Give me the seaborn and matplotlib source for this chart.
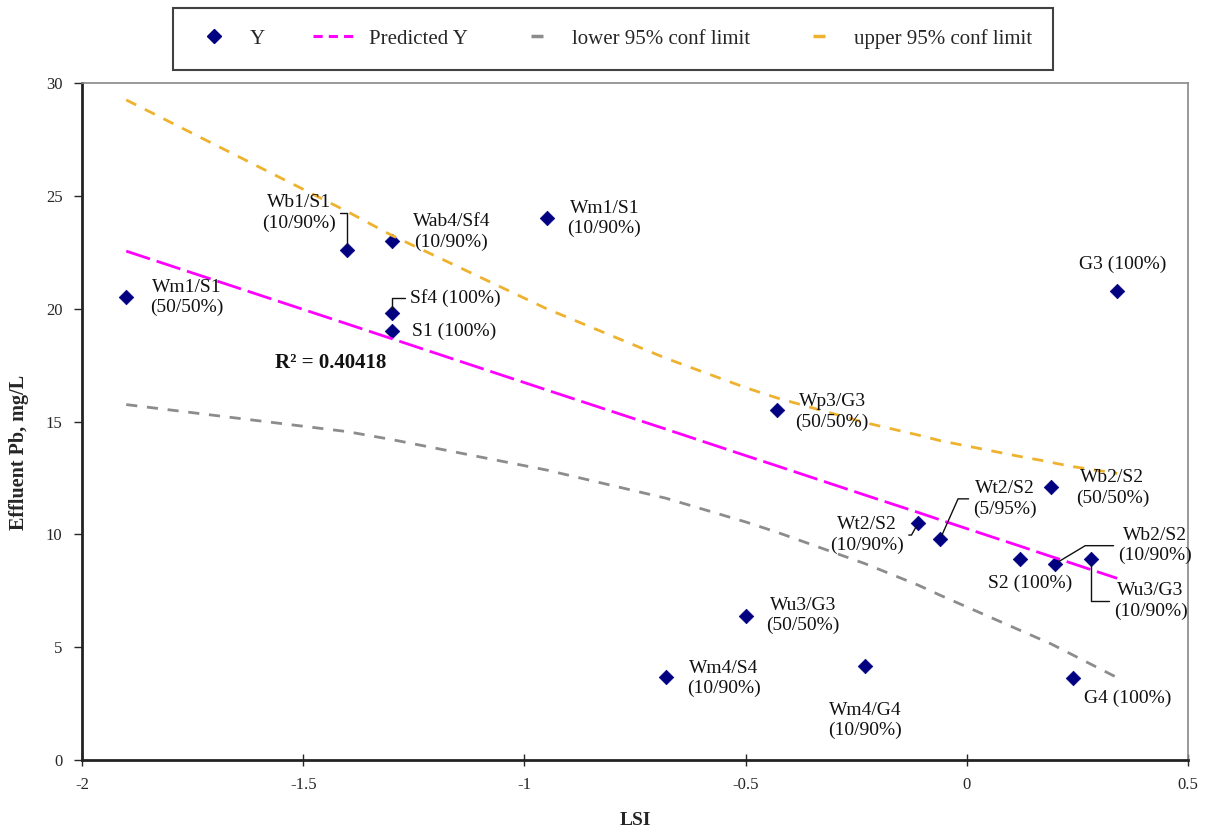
import matplotlib
matplotlib.use("Agg")
import matplotlib.pyplot as plt
import seaborn as sns
import pandas as pd
from matplotlib.lines import Line2D

# ---------------- data ----------------
labels = ["Wm1/S1\n(50/50%)", "Wb1/S1\n(10/90%)", "Wab4/Sf4\n(10/90%)", "Sf4 (100%)",
          "S1 (100%)", "Wm1/S1\n(10/90%)", "G3 (100%)", "Wp3/G3\n(50/50%)",
          "Wb2/S2\n(50/50%)", "Wt2/S2\n(10/90%)", "Wt2/S2\n(5/95%)", "S2 (100%)",
          "Wb2/S2\n(10/90%)", "Wu3/G3\n(10/90%)", "Wu3/G3\n(50/50%)", "Wm4/S4\n(10/90%)",
          "Wm4/G4\n(10/90%)", "G4 (100%)"]
lsi = [-1.90, -1.40, -1.30, -1.30, -1.30, -0.95, 0.34, -0.43, 0.19, -0.11, -0.06,
       0.12, 0.20, 0.28, -0.50, -0.68, -0.23, 0.24]
pb = [20.5, 22.6, 23.0, 19.8, 19.0, 24.0, 20.8, 15.5, 12.1, 10.5, 9.8, 8.9, 8.7,
      8.9, 6.4, 3.7, 4.15, 3.65]

fit_x = [-1.90, -1.40, -1.30, -0.95, -0.68, -0.50, -0.43, -0.23, -0.11, -0.06,
         0.12, 0.19, 0.20, 0.24, 0.28, 0.34]
pred_y = [22.55, 19.32, 18.67, 16.40, 14.66, 13.49, 13.04, 11.74, 10.97, 10.64,
          9.48, 9.02, 8.96, 8.70, 8.44, 8.05]
lower_y = [15.75, 14.55, 14.20, 12.85, 11.60, 10.55, 10.10, 8.70, 7.75, 7.30,
           5.75, 5.15, 5.05, 4.65, 4.25, 3.65]
upper_y = [29.25, 24.30, 23.25, 20.00, 17.80, 16.50, 16.05, 14.95, 14.40, 14.15,
           13.45, 13.20, 13.15, 13.00, 12.88, 12.70]

x_ticks = [-2, -1.5, -1, -0.5, 0, 0.5]
x_tick_labels = ["-2", "-1.5", "-1", "-0.5", "0", "0.5"]
y_ticks = [0, 5, 10, 15, 20, 25, 30]
r2_text = "R² = 0.40418"
legend_names = ["Y", "Predicted Y", "lower 95% conf limit", "upper 95% conf limit"]

# text offsets (display pixels) and alignments for the point labels
label_off = [(24, 0, "left"), (-12, 37, "right"), (21, 9, "left"), (18, 15, "left"),
             (20, 0, "left"), (21, 0, "left"), (5, 26, "center"), (19, -2, "left"),
             (25, -1, "left"), (-14, -12, "right"), (33, 40, "left"), (10, -24, "center"),
             (63, 18, "left"), (23, -42, "left"), (21, 0, "left"), (21, -2, "left"),
             (0, -54, "center"), (11, -21, "left")]
# leader lines: index -> angleB of the connection
leaders = {1: 90, 3: 90, 9: 61, 10: 66, 12: 31, 13: 90}

# ---------------- style ----------------
sns.set_style("white")
plt.rcParams['font.family'] = ['Liberation Serif', 'DejaVu Serif']

NAVY = "#000080"
MAGENTA = "#FF00FF"
GRAY = "#8C8C8C"
GOLD = "#EEB22E"

fig = plt.figure(figsize=(12.08, 8.31), dpi=100)
ax = fig.add_axes([82 / 1208, 1 - 760 / 831, (1188 - 82) / 1208, (760 - 83) / 831])

pts = pd.DataFrame({"LSI": lsi, "Pb": pb, "label": labels})
fit = pd.DataFrame({"LSI": fit_x, "pred": pred_y, "lower": lower_y, "upper": upper_y})

sns.scatterplot(data=pts, x="LSI", y="Pb", marker="D", s=55, color=NAVY,
                edgecolor=NAVY, linewidth=0.5, ax=ax, zorder=3, legend=False)
sns.lineplot(data=fit, x="LSI", y="lower", color=GRAY, lw=2.0, sort=False,
             estimator=None, ax=ax, zorder=4, linestyle=(0, (4, 3.5)))
sns.lineplot(data=fit, x="LSI", y="upper", color=GOLD, lw=2.0, sort=False,
             estimator=None, ax=ax, zorder=4, linestyle=(0, (4, 3.5)))
sns.lineplot(data=fit, x="LSI", y="pred", color=MAGENTA, lw=2.0, sort=False,
             estimator=None, ax=ax, zorder=4, linestyle=(0, (9, 2.5)))

ax.set_xlim(-2, 0.5)
ax.set_ylim(0, 30)
ax.set_xticks(x_ticks)
ax.set_xticklabels(x_tick_labels)
ax.set_yticks(y_ticks)
ax.tick_params(axis="x", direction="inout", length=8, width=1, labelsize=12, pad=8,
               bottom=True)
ax.tick_params(axis="y", direction="out", length=6, width=1, labelsize=12, pad=8,
               left=True)
ax.set_xlabel("LSI", fontsize=14, fontweight="bold", labelpad=14)
ax.set_ylabel("Effluent Pb, mg/L", fontsize=14.5, fontweight="bold")
ax.yaxis.set_label_coords(-0.048, 0.455)

for side in ["left", "bottom"]:
    ax.spines[side].set_color("#222222")
    ax.spines[side].set_linewidth(2.0)
for side in ["top", "right"]:
    ax.spines[side].set_color("#888888")
    ax.spines[side].set_linewidth(1.2)
    ax.spines[side].set_visible(True)

PX = 72 / 100  # pixels -> points
for i, (lab, x, y) in enumerate(zip(labels, lsi, pb)):
    dx, dy, ha = label_off[i]
    kw = dict(xy=(x, y), xytext=(dx * PX, dy * PX), textcoords="offset points",
              ha=ha, va="center", fontsize=14, multialignment="center",
              linespacing=1.25, color="#111111", zorder=5)
    if i in leaders:
        kw["arrowprops"] = dict(arrowstyle="-", color="#111111", lw=1.0,
                                shrinkA=1, shrinkB=3,
                                connectionstyle=f"angle,angleA=0,angleB={leaders[i]},rad=0")
    ax.annotate(lab, **kw)

ax.text(-1.437, 17.6, r2_text, ha="center", va="center", fontsize=15,
        fontweight="bold", color="#111111")

handles = [
    Line2D([], [], marker="D", color=NAVY, linestyle="none", markersize=7),
    Line2D([], [], color=MAGENTA, lw=2.2, linestyle=(0, (3, 2))),
    Line2D([], [], color=GRAY, marker="_", markersize=9, mew=2.5, linestyle="none"),
    Line2D([], [], color=GOLD, marker="_", markersize=9, mew=2.5, linestyle="none"),
]
leg = fig.legend(handles, legend_names, loc="upper center",
                 bbox_to_anchor=(613 / 1208, 1 - 8 / 831), borderaxespad=0,
                 ncol=4, fontsize=15, frameon=True, fancybox=False, edgecolor="#111111",
                 borderpad=1.0, columnspacing=2.3, handlelength=2.0, handletextpad=0.7)
leg.get_frame().set_linewidth(1.5)

fig.savefig("out.png", dpi=100, facecolor="white")
